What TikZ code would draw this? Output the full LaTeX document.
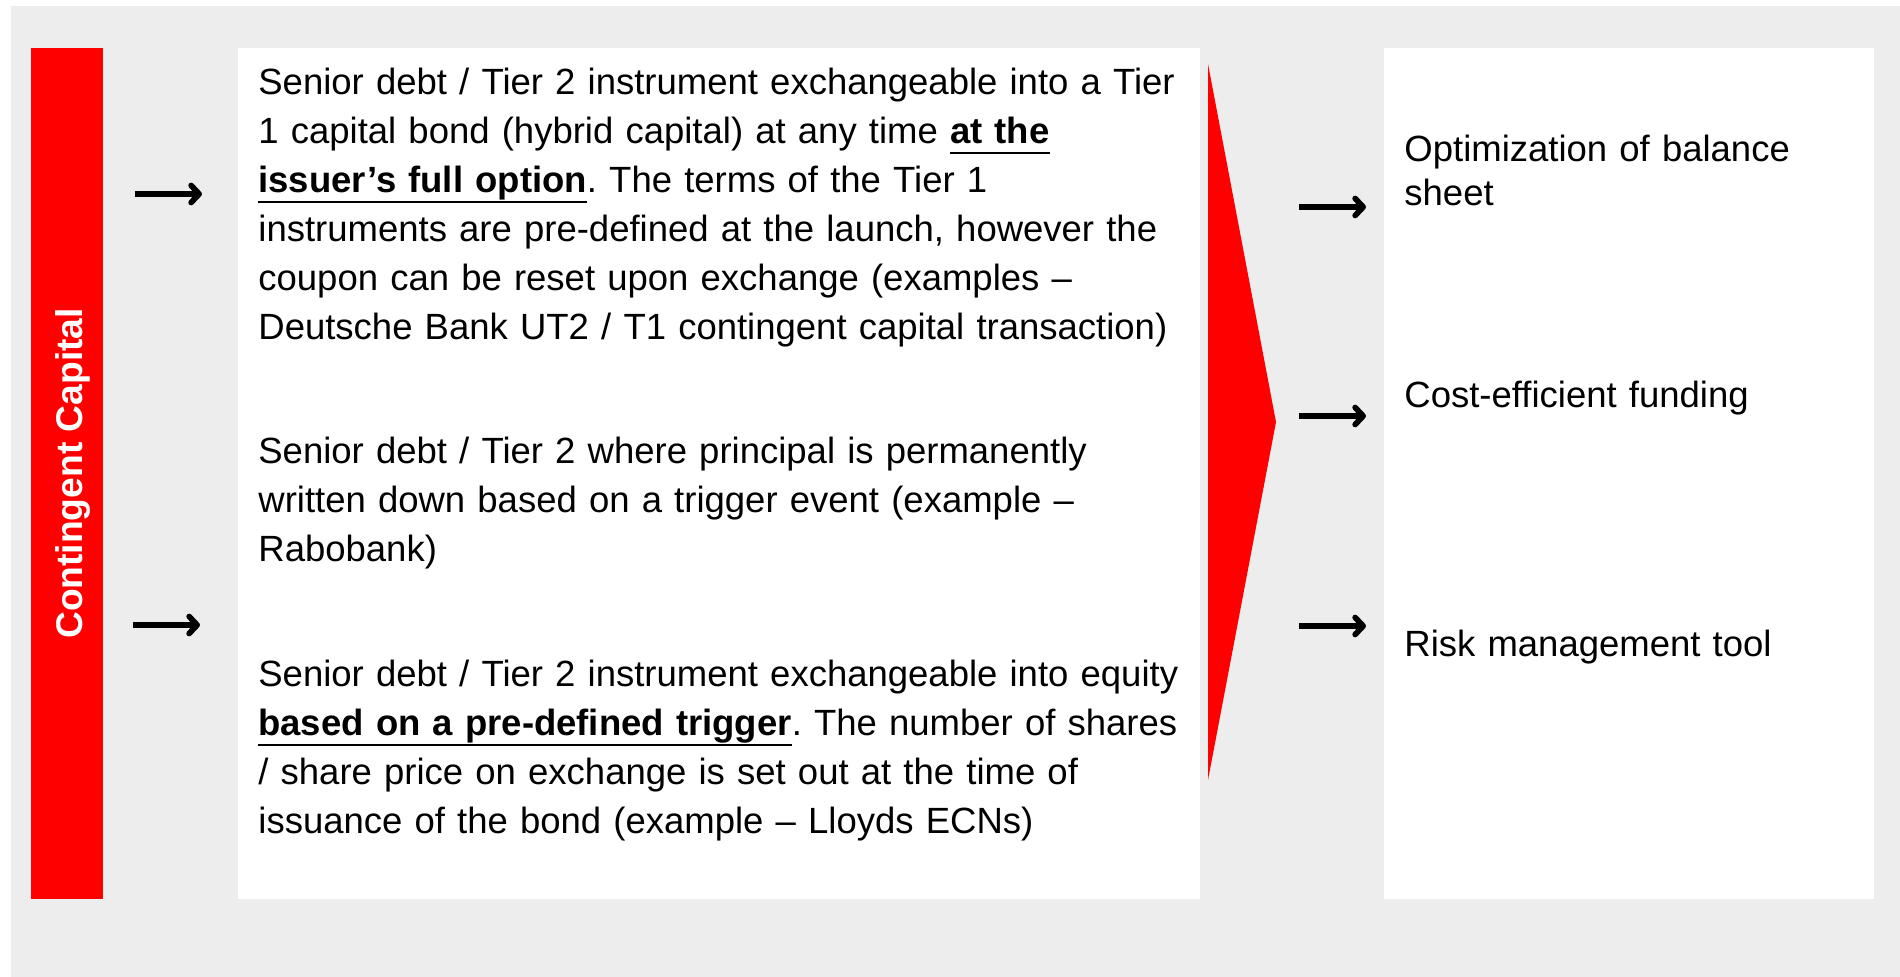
\documentclass[tikz,border=0pt]{standalone}
\usepackage{fontspec}
\setmainfont{Liberation Sans}
\usetikzlibrary{arrows.meta}
\setlength\parindent{0pt}
\frenchspacing
\definecolor{panelgray}{HTML}{EDEDED}
\definecolor{brandred}{HTML}{FF0000}
% bold phrase with a flat underline at a fixed depth below the baseline
\newsavebox\ulbox
\newcommand{\ulbf}[1]{\leavevmode\sbox\ulbox{\bfseries #1}\rlap{\usebox\ulbox}\rule[-5pt]{\wd\ulbox}{1.1pt}}
\begin{document}
\begin{tikzpicture}[x=0.5pt,y=-0.5pt,
  body/.style={anchor=base west, inner sep=0pt, text width=480pt, align=left,
    font=\fontsize{18.25}{24.45}\selectfont},
  side/.style={anchor=base west, inner sep=0pt, text width=235pt, align=left,
    font=\fontsize{18.25}{22}\selectfont},
  arr/.style={line width=2.85pt,
    -{Straight Barb[length=4pt,width=8.5pt,line cap=round,line join=round]}}]
\useasboundingbox (0,0) rectangle (1900,977);
\fill[white] (0,0) rectangle (1900,977);
\fill[panelgray] (11,6) rectangle (1900,977);

% side bar, panels and funnel
\fill[brandred] (31,48) rectangle (103,899);
\fill[white] (238,48) rectangle (1200,899);
\fill[white] (1384,48) rectangle (1874,899);
\fill[brandred] (1208,64) -- (1276,422) -- (1208,780) -- cycle;

\node[rotate=90, anchor=base, text=white, inner sep=0pt,
  font=\bfseries\fontsize{18.6}{22}\selectfont] (title) at (82,473.5) {Contingent Capital};

% instrument descriptions
\node[body] (b1) at (258,95) {Senior debt / Tier 2 instrument exchangeable into a Tier\\
1 capital bond (hybrid capital) at any time \ulbf{at the}\\
\ulbf{issuer’s full option}. The terms of the Tier 1\\
instruments are pre-defined at the launch, however the\\
coupon can be reset upon exchange (examples –\\
Deutsche Bank UT2 / T1 contingent capital transaction)};

\node[body] (b2) at (258,464) {Senior debt / Tier 2 where principal is permanently\\
written down based on a trigger event (example –\\
Rabobank)};

\node[body] (b3) at (258,687) {Senior debt / Tier 2 instrument exchangeable into equity\\
\ulbf{based on a pre-defined trigger}. The number of shares\\
/ share price on exchange is set out at the time of\\
issuance of the bond (example – Lloyds ECNs)};

% benefits
\node[side] (r1) at (1404,162) {Optimization of balance\\sheet};
\node[side] (r2) at (1404,408) {Cost-efficient funding};
\node[side] (r3) at (1404,657) {Risk management tool};

% arrows
\coordinate (l1s) at (135,194); \coordinate (l1e) at (202,194);
\coordinate (l2s) at (133,625); \coordinate (l2e) at (200,625);
\coordinate (r1s) at (1299,207); \coordinate (r1e) at (1366,207);
\coordinate (r2s) at (1299,416); \coordinate (r2e) at (1366,416);
\coordinate (r3s) at (1299,626); \coordinate (r3e) at (1366,626);
\draw[arr] (l1s) -- (l1e);
\draw[arr] (l2s) -- (l2e);
\draw[arr] (r1s) -- (r1e);
\draw[arr] (r2s) -- (r2e);
\draw[arr] (r3s) -- (r3e);
\end{tikzpicture}
\end{document}
